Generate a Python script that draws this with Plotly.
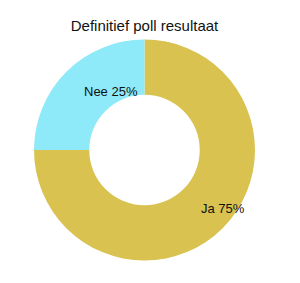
import math
import plotly.graph_objects as go

labels = ["Ja", "Nee"]
values = [75, 25]
colors = ["#D9C250", "#8EEAF8"]
title_text = "Definitief poll resultaat"

W, H = 300, 283
L, R, T, B = 34, 45, 39, 22
hole = 0.5

fig = go.Figure(go.Pie(
    labels=labels, values=values, hole=hole, sort=False,
    direction="clockwise", rotation=0,
    marker=dict(colors=colors, line=dict(width=0)),
    textinfo="none", hoverinfo="label+percent",
    domain=dict(x=[0, 1], y=[0, 1]),
))

pw, ph = W - L - R, H - T - B
rad = min(pw, ph) / 2
rmid = rad * (1 + hole) / 2
total = sum(values)
cum = 0
annotations = []
for lab, v in zip(labels, values):
    mid = (cum + v / 2) / total * 2 * math.pi
    cum += v
    dx = rmid * math.sin(mid)
    dy = rmid * math.cos(mid)
    annotations.append(dict(
        x=0.5 + dx / pw, y=0.5 + dy / ph, xref="paper", yref="paper",
        text=f"{lab} {round(v / total * 100)}%", showarrow=False,
        xanchor="left", yanchor="middle", xshift=-2, borderpad=0, borderwidth=0,
        font=dict(family="Liberation Sans, Arial", size=13, color="#111111"),
    ))

fig.update_layout(
    width=W, height=H,
    margin=dict(l=L, r=R, t=T, b=B),
    paper_bgcolor="white", plot_bgcolor="white",
    showlegend=False,
    title=dict(text=title_text, x=0.5, xanchor="center", xref="paper",
               y=1 - 26 / H, yanchor="middle", yref="container",
               font=dict(family="Liberation Sans, Arial", size=15, color="#111111")),
    annotations=annotations,
)

fig.write_html("out.html")
